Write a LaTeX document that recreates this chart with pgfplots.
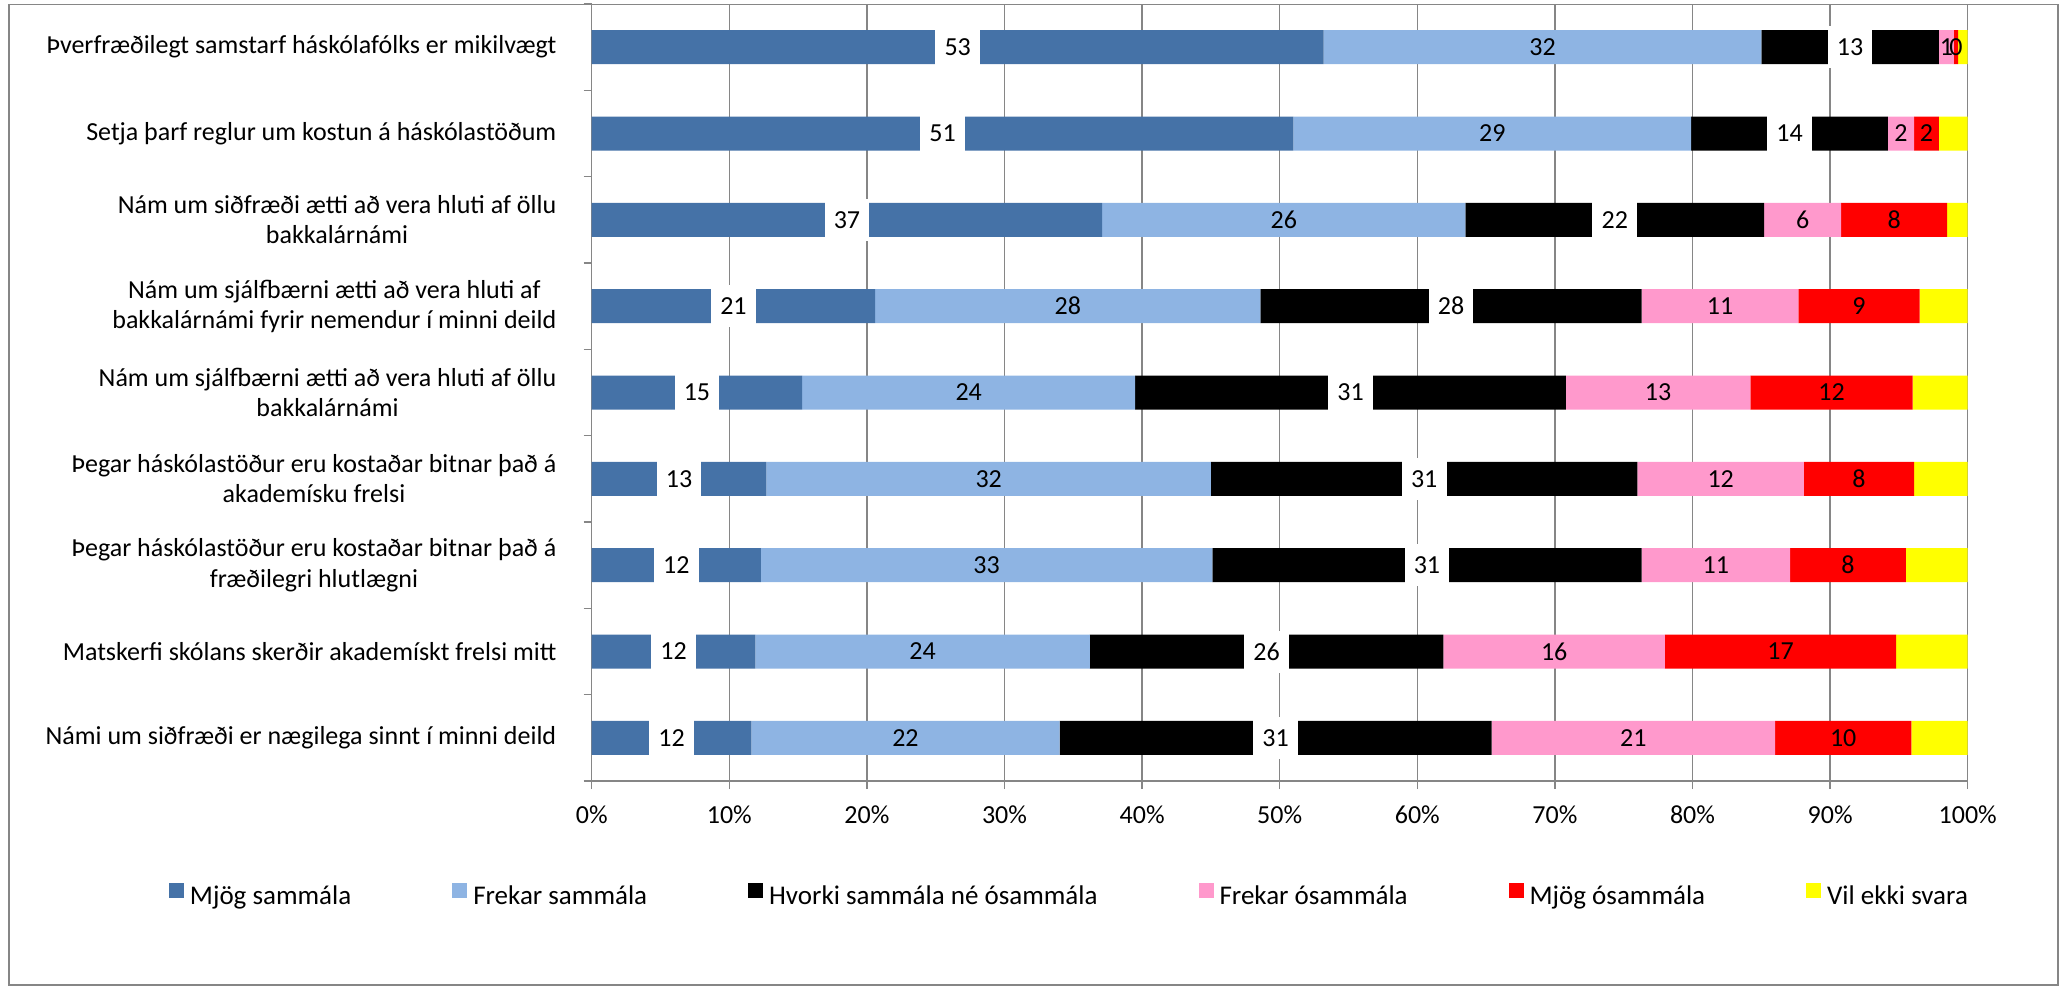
\documentclass[border=0pt]{standalone}
\usepackage{pgfplots}
\pgfplotsset{compat=1.18}
\usepackage{pgfplotstable}
\usepackage{fontspec}
\setmainfont{Carlito}
\definecolor{mjog}{HTML}{4572A7}
\definecolor{frekar}{HTML}{8EB4E3}
\definecolor{hvorki}{HTML}{000000}
\definecolor{frekaros}{HTML}{FF99CC}
\definecolor{mjogos}{HTML}{FF0000}
\definecolor{vil}{HTML}{FFFF00}
\definecolor{gridgray}{HTML}{868686}

\pgfplotstableread{
cat mjog frekar hvorki frekaros mjogos vil
0 53.2 31.8 12.9 1.1 0.3 0.7
1 51.0 28.9 14.3 1.9 1.8 2.1
2 37.1 26.4 21.7 5.6 7.7 1.5
3 20.6 28.0 27.7 11.4 8.8 3.5
4 15.3 24.2 31.3 13.4 11.8 4.0
5 12.7 32.3 31.0 12.1 8.0 3.9
6 12.3 32.8 31.2 10.8 8.4 4.5
7 11.9 24.3 25.7 16.1 16.8 5.2
8 11.6 22.4 31.4 20.6 9.9 4.1
}\data
% centres of the segments, derived from the data
\pgfplotstablecreatecol[create col/expr={\thisrow{mjog}/2}]{c1}{\data}
\pgfplotstablecreatecol[create col/expr={\thisrow{mjog}+\thisrow{frekar}/2}]{c2}{\data}
\pgfplotstablecreatecol[create col/expr={\thisrow{mjog}+\thisrow{frekar}+\thisrow{hvorki}/2}]{c3}{\data}
\pgfplotstablecreatecol[create col/expr={\thisrow{mjog}+\thisrow{frekar}+\thisrow{hvorki}+\thisrow{frekaros}/2}]{c4}{\data}
\pgfplotstablecreatecol[create col/expr={\thisrow{mjog}+\thisrow{frekar}+\thisrow{hvorki}+\thisrow{frekaros}+\thisrow{mjogos}/2}]{c5}{\data}

\newcommand{\chartfont}{\fontsize{13}{15.2}\selectfont}
\newcommand{\legfont}{\fontsize{13.5}{16}\selectfont}

\begin{document}
\begin{tikzpicture}
\useasboundingbox (0,0) rectangle (1032.5pt,494.5pt);
\pgfplotsset{
  geom/.style={at={(295.85pt,104pt)}, anchor=south west,
    scale only axis, width=688pt, height=388.5pt,
    xmin=0, xmax=100, ymin=-0.5, ymax=8.5, y dir=reverse},
}
\begin{axis}[
  geom,
  xbar stacked, bar width=17pt,
  axis x line*=bottom, axis y line*=left,
  axis line style={draw=gridgray, line width=0.75pt},
  xtick={0,10,...,100},
  xticklabels={0\%,10\%,20\%,30\%,40\%,50\%,60\%,70\%,80\%,90\%,100\%},
  xmajorgrids, grid style={draw=gridgray, line width=0.75pt},
  tick align=outside, major tick length=4pt,
  tick style={draw=gridgray, line width=0.75pt},
  ytick={-0.5,0.5,...,8.5},
  yticklabels={{},{},{},{},{},{},{},{},{},{}},
  extra y ticks={0,1,2,3,4,5,6,7,8},
  extra y tick labels={
    {Þverfræðilegt samstarf háskólafólks er mikilvægt},
    {Setja þarf reglur um kostun á háskólastöðum},
    {Nám um siðfræði ætti að vera hluti af öllu\\bakkalárnámi},
    {Nám um sjálfbærni ætti að vera hluti af\\bakkalárnámi fyrir nemendur í minni deild},
    {Nám um sjálfbærni ætti að vera hluti af öllu\\bakkalárnámi},
    {Þegar háskólastöður eru kostaðar bitnar það á\\akademísku frelsi},
    {Þegar háskólastöður eru kostaðar bitnar það á\\fræðilegri hlutlægni},
    {Matskerfi skólans skerðir akademískt frelsi mitt},
    {Námi um siðfræði er nægilega sinnt í minni deild}},
  extra y tick style={tick style={draw=none}, grid=none,
    yticklabel style={anchor=east, inner sep=0pt, xshift=-13.5pt, align=center, font=\chartfont}},
  xticklabel style={anchor=base, inner sep=0pt, yshift=-17pt, font=\chartfont},
  sq/.style={legend image code/.code={\fill[#1] (0pt,-0.5pt) rectangle (7.5pt,7pt);}},
  legend columns=6,
  legend style={at={(-0.3072,-0.1467)}, anchor=west, draw=none, fill=none,
    inner sep=0pt, outer sep=0pt, font=\legfont, nodes={inner sep=0pt},
    /tikz/every odd column/.append style={column sep=3pt},
    /tikz/every even column/.append style={column sep=50.5pt}},
  legend cell align=left,
]
\addplot[fill=mjog, draw=none, sq=mjog] table[x=mjog, y=cat] {\data};
\addlegendentry{Mjög sammála}
\addplot[fill=frekar, draw=none, sq=frekar] table[x=frekar, y=cat] {\data};
\addlegendentry{Frekar sammála}
\addplot[fill=hvorki, draw=none, sq=hvorki] table[x=hvorki, y=cat] {\data};
\addlegendentry{Hvorki sammála né ósammála}
\addplot[fill=frekaros, draw=none, sq=frekaros] table[x=frekaros, y=cat] {\data};
\addlegendentry{Frekar ósammála}
\addplot[fill=mjogos, draw=none, sq=mjogos] table[x=mjogos, y=cat] {\data};
\addlegendentry{Mjög ósammála}
\addplot[fill=vil, draw=none, sq=vil] table[x=vil, y=cat] {\data};
\addlegendentry{Vil ekki svara}
\end{axis}
% data labels, centred on each segment
\begin{axis}[
  geom, hide axis, clip=false,
  /pgf/number format/assume math mode=true,
  nodes near coords={\pgfmathprintnumber[fixed,precision=0]{\pgfplotspointmeta}},
  point meta=explicit,
  boxlab/.style={every node near coord/.style={anchor=center, text=black, font=\chartfont,
      fill=white, inner xsep=4.6pt, inner ysep=0pt, minimum height=21pt}},
  plainlab/.style={every node near coord/.style={anchor=center, text=black, font=\chartfont,
      inner sep=0pt}},
]
\addplot[draw=none, boxlab] table[x=c1, y=cat, meta=mjog] {\data};
\addplot[draw=none, plainlab] table[x=c2, y=cat, meta=frekar] {\data};
\addplot[draw=none, boxlab] table[x=c3, y=cat, meta=hvorki] {\data};
\addplot[draw=none, plainlab] table[x=c4, y=cat, meta=frekaros] {\data};
\addplot[draw=none, plainlab] table[x=c5, y=cat, meta=mjogos] {\data};
\end{axis}
\draw[gridgray, line width=0.7pt] (4.5pt,2pt) rectangle (1029pt,492.35pt);
\end{tikzpicture}
\end{document}
